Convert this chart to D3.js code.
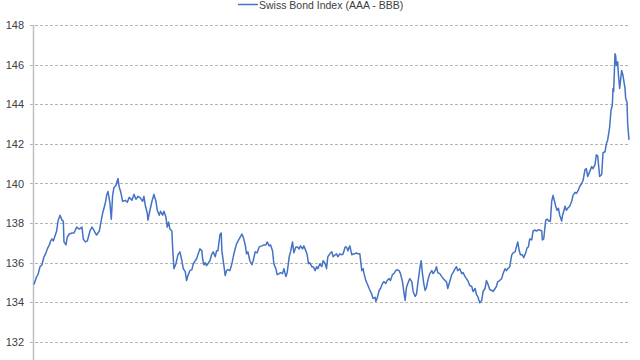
<!DOCTYPE html>
<html>
<head>
<meta charset="utf-8">
<script src="https://cdn.jsdelivr.net/npm/d3@7/dist/d3.min.js"></script>
<style>
  html, body { margin: 0; padding: 0; background: #ffffff; }
  svg { display: block; }
</style>
</head>
<body>
<svg id="chart" width="640" height="360"></svg>
<script>
// ---- data ----
const seriesName = "Swiss Bond Index (AAA - BBB)";
// observation index (trading days since start)
const days = [
  0,4,6,9,12,15,18,20,23,25,27,29,32,34,36,39,42,44,45,48,50,53,57,60,64,68,72,74,77,80,
  84,87,89,92,94,98,101,103,107,109,111,114,116,118,120,123,126,128,130,133,137,140,143,147,150,153,156,
  159,163,165,167,170,171,174,177,180,183,185,188,190,193,195,198,200,202,204,207,208,210,213,216,219,
  222,224,227,229,231,234,237,239,242,244,246,249,252,253,255,257,259,261,264,267,269,272,274,276,279,
  281,282,284,287,289,291,294,297,300,304,308,312,314,317,319,321,324,
  327,329,332,335,338,342,345,348,350,353,355,358,360,363,365,368,370,373,375,378,380,383,385,388,390,
  393,395,398,400,403,405,408,410,412,414,417,419,422,424,426,429,432,434,437,439,441,444,447,449,452,
  454,456,459,462,464,467,469,471,474,477,479,482,484,486,489,
  492,494,495,498,500,503,505,507,509,512,513,515,518,520,523,525,528,530,533,535,538,540,543,545,548,
  550,553,555,557,559,561,564,567,569,572,574,576,579,581,583,585,587,589,591,594,597,599,602,604,606,
  609,612,614,617,619,621,624,627,629,632,634,636,639,642,644,647,649,651,
  654,657,659,662,664,666,669,672,674,677,679,681,684,687,689,692,694,696,699,702,704,707,709,711,714,
  717,719,722,724,726,728,730,733,735,738,740,742,744,747,749,752,754,756,759,762,763,765,768,770,773,
  775,777,779,782,783,785,787,789,792,793,795,797,799,801,804,807,809,812,814,816,
  819,822,824,827,829,831,834,837,839,842,844,846,849,852,854,857,859,861,864,866,868,869,870,872,873,
  874,876,877,879,881,882,884,887,888,890,891,893
];
const values = [
  134.9,135.3,135.4,135.8,135.9,136.3,136.5,136.7,136.9,137.1,137.2,137.1,137.4,137.6,138.1,138.4,138.15,138.1,137.05,136.9,137.3,137.45,137.5,137.5,137.8,137.7,137.8,137.2,137.05,137.1,
  137.6,137.8,137.7,137.5,137.4,137.6,138.15,138.5,139.0,139.4,139.6,139.0,138.2,139.4,139.8,139.9,140.25,139.8,139.6,139.1,139.15,139.05,139.3,139.15,139.45,139.2,139.35,
  139.3,139.1,139.35,138.9,138.5,138.15,138.65,139.1,139.45,139.1,138.65,138.4,138.6,138.4,138.6,138.3,137.8,138.05,137.7,137.6,136.8,135.7,135.95,136.4,136.55,
  136.1,135.7,135.55,135.1,135.35,135.6,135.65,135.95,136.1,136.2,136.4,136.7,136.6,136.2,135.9,136.0,135.85,135.95,136.1,136.45,136.55,136.3,136.6,136.6,137.4,
  137.5,136.6,136.1,135.35,135.6,135.65,135.6,135.95,136.45,136.95,137.2,137.45,137.3,136.9,136.45,136.55,136.1,
  135.9,136.1,136.55,136.5,136.8,136.85,136.9,136.9,137.05,136.85,136.9,136.6,135.95,135.7,135.4,135.45,135.5,135.45,135.7,135.3,135.5,136.3,136.55,137.05,136.5,
  136.8,136.8,136.7,136.85,136.7,136.85,136.6,136.4,135.95,136.0,135.8,135.8,135.6,135.8,135.7,135.95,135.8,136.1,135.95,135.7,136.3,136.45,136.55,136.3,136.4,
  136.45,136.3,136.45,136.4,136.45,136.8,136.8,136.6,136.85,136.4,136.45,136.45,136.5,136.45,136.45,
  135.6,135.7,135.5,135.1,134.95,134.7,134.55,134.4,134.2,134.25,134.05,134.2,134.6,134.7,134.95,135.05,134.95,135.1,135.2,135.1,135.4,135.45,135.6,135.65,135.6,
  135.45,135.05,134.55,134.1,134.75,134.95,135.2,135.05,134.55,134.3,134.4,134.95,135.7,136.1,135.45,134.95,134.6,134.75,135.1,135.45,135.6,135.45,135.6,135.8,135.5,
  135.45,135.3,135.2,135.1,135.05,134.7,135.05,135.4,135.5,135.7,135.8,135.6,135.7,135.45,135.5,135.3,135.2,135.1,
  134.85,134.8,134.55,134.7,134.4,134.3,133.98,134.1,134.55,134.7,135.1,134.95,134.65,134.6,134.55,134.7,134.8,135.05,135.1,135.2,135.45,135.7,135.6,135.7,135.8,
  136.4,136.5,136.55,136.8,137.05,136.65,136.4,136.4,136.25,136.5,136.75,136.8,137.2,137.15,137.6,137.65,137.6,137.65,137.65,137.6,137.15,137.2,138.15,138.2,138.1,
  138.1,139.1,139.4,139.0,138.85,138.65,138.75,138.4,138.1,138.35,138.6,138.85,138.65,138.75,138.85,139.1,139.4,139.55,139.5,139.6,
  139.85,140.0,140.15,140.7,140.75,140.35,140.6,140.85,140.75,140.95,141.45,141.4,140.35,140.45,141.55,141.6,142.0,142.2,142.85,143.7,143.95,144.8,144.65,146.55,146.45,
  145.95,146.15,145.55,144.8,145.4,145.7,145.45,144.8,144.3,144.1,143.0,142.2
];
const yTicks = [132, 134, 136, 138, 140, 142, 144, 146, 148];
const yDomain = [130, 148];

// ---- layout ----
const svg = d3.select("#chart");
const plotLeft = 34, plotRight = 629, gridLeft = 30, gridRight = 630;
const plotTop = 25, plotBottom = 381.6;

const x = d3.scaleLinear().domain([0, d3.max(days)]).range([plotLeft, plotRight]);
const y = d3.scaleLinear().domain(yDomain).range([plotBottom, plotTop]);

// gridlines
svg.append("g")
  .selectAll("line")
  .data(yTicks)
  .join("line")
  .attr("x1", gridLeft).attr("x2", gridRight)
  .attr("y1", d => Math.round(y(d)) + 0.5).attr("y2", d => Math.round(y(d)) + 0.5)
  .attr("stroke", "#b4b4b4")
  .attr("stroke-width", 1)
  .attr("stroke-dasharray", "3,2");

// y axis labels
const yAxis = d3.axisLeft(y).tickValues(yTicks).tickSize(0).tickPadding(0).tickFormat(d3.format("d"));
const gAxis = svg.append("g").attr("transform", `translate(${plotLeft - 10},0)`).call(yAxis);
gAxis.select(".domain").remove();
gAxis.selectAll("text")
  .attr("font-family", "'Liberation Sans', Arial, sans-serif")
  .attr("font-size", 11)
  .attr("fill", "#404040");

// vertical axis line
svg.append("line")
  .attr("x1", plotLeft - 0.5).attr("x2", plotLeft - 0.5)
  .attr("y1", plotTop).attr("y2", 360)
  .attr("stroke", "#bfbfbf").attr("stroke-width", 1.5);

// series line
const points = days.map((d, i) => [d, values[i]]);
const line = d3.line().x(d => x(d[0])).y(d => y(d[1]));
svg.append("path")
  .datum(points)
  .attr("fill", "none")
  .attr("stroke", "#4472C4")
  .attr("stroke-width", 1.5)
  .attr("stroke-linejoin", "round")
  .attr("d", line);

// legend
const legend = svg.append("g");
legend.append("line")
  .attr("x1", 238).attr("x2", 258).attr("y1", 4.5).attr("y2", 4.5)
  .attr("stroke", "#4472C4").attr("stroke-width", 1.5);
legend.append("text")
  .attr("x", 259).attr("y", 9)
  .attr("font-family", "'Liberation Sans', Arial, sans-serif")
  .attr("font-size", 10.5)
  .attr("fill", "#404040")
  .text(seriesName);
</script>
</body>
</html>
